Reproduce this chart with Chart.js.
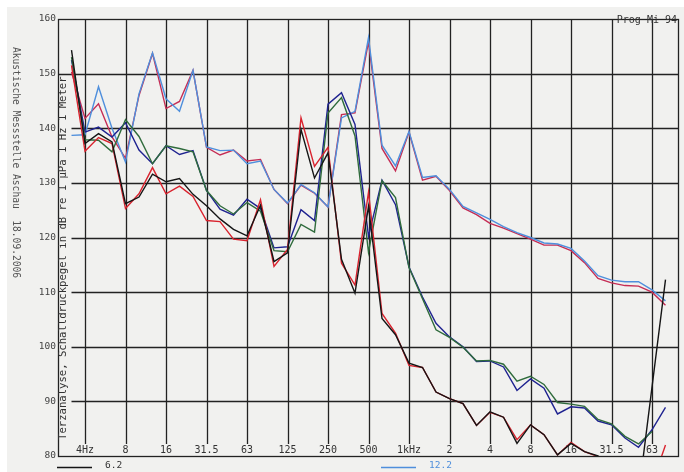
<!DOCTYPE html>
<html>
<head>
<meta charset="utf-8">
<script src="https://cdn.jsdelivr.net/npm/chart.js@4/dist/chart.umd.min.js"></script>
<style>
  html, body { margin: 0; padding: 0; background: #fff; }
  #wrap { width: 684px; height: 472px; }
</style>
</head>
<body>
<div id="wrap"><canvas id="chart" width="684" height="472"></canvas></div>
<script>
// third-octave bands, 2.5 Hz .. 100 kHz (ends are the empty plot margins)
const bands = ['2.5','3.15','4','5','6.3','8','10','12.5','16','20','25','31.5','40','50','63','80','100','125','160','200',
  '250','315','400','500','630','800','1k','1.25k','1.6k','2k','2.5k','3.15k','4k','5k','6.3k','8k','10k','12.5k','16k','20k',
  '25k','31.5k','40k','50k','63k','80k','100k'];

// labelled octave lines
const tickBands = ['4','8','16','31.5','63','125','250','500','1k','2k','4k','8k','16k','31.5k','63k'];
const tickText  = ['4Hz','8','16','31.5','63','125','250','500','1kHz','2','4','8','16','31.5','63'];

const yTicks = [80, 90, 100, 110, 120, 130, 140, 150, 160];

// levels in dB (values under 80 run off the bottom of the plot)
const black = [null, 154.3,137.2,139,137.5,126.2,127.4,131.6,130.2,130.8,127.9, 125.8,123.4,121.5,120.3,125.9,115.6,117.2,139.8,130.9,135.5,
  116,109.8,125.7,105.2,102.2,97,96.2,91.7,90.5,89.6, 85.6,88.1,87.1,82.3,85.7,83.9,80.2,82.3,80.8,80, 78,76,72.9,92.6,112.3, null];
const red = [null, 151.5,135.8,138.3,137.2,125.3,128,132.8,128,129.4,127.5, 123.1,122.9,119.7,119.4,126.9,114.7,117.8,141.9,133,136.5,
  115.3,111.3,128.3,106.1,102.5,96.6,96.2,91.7,90.5,89.6, 85.6,88,87.1,83,85.7,83.9,80.2,82.5,80.8,79.9, 78,77,76,74.9,82, null];
const navy = [null, 152.5,139.3,140.2,138.4,141,136,133.5,136.8,135.2,135.9, 128.6,125.2,124.1,127,125.3,118.1,118.3,125.1,123.1,144.4,
  146.5,140.7,120.2,130.5,126,114.6,109.1,104.3,101.8,100, 97.3,97.4,96.3,92,94.1,92.4,87.7,89,88.8,86.4, 85.7,83.3,81.6,84.8,88.9, null];
const green = [null, 153,137.9,137.8,135.7,141.6,138.5,133.5,136.8,136.3,135.7, 128.6,125.8,124.3,126.4,124.8,117.6,117.4,122.4,121,142.8,
  145.6,138.6,117.3,130.4,127.3,114.5,108.8,103.1,101.7,99.9, 97.4,97.5,96.8,93.7,94.6,93.1,89.8,89.5,89.1,86.7, 85.9,83.6,82.2,84.5,null, null];
const lightBlue = [null, 138.7,138.8,147.6,140,133.8,146.3,153.8,145.4,143.1,150.6, 136.6,135.9,136,133.5,134,128.8,126.3,129.7,128.2,125.6,
  141.9,143.1,156.6,136.9,133.1,139.4,131,131.3,128.8,125.7, 124.5,123.3,122,120.9,120,119,118.8,118,115.7,113, 112.2,111.9,111.9,110.4,108.4, null];
const crimson = [null, 150.3,141.8,144.5,138.4,134.5,146,153.7,143.6,144.9,150.6, 136.5,135.1,136,134,134.3,128.8,126.2,129.6,128.1,125.6,
  142.5,142.8,155.8,136.3,132.2,139.3,130.5,131.2,128.6,125.4, 124.2,122.6,121.7,120.7,119.7,118.6,118.6,117.6,115.4,112.5, 111.7,111.2,111.1,110,107.6, null];

const yTitle = 'Terzanalyse, Schalldruckpegel in dB re 1 \u00b5Pa 1 Hz 1 Meter';
const sideText = 'Akustische Messstelle Aschau  18.09.2006';
const progText = 'Prog Mi 94';

const MONO = '"DejaVu Sans Mono", "Liberation Mono", monospace';

function line(label, data, color) {
  return {
    label: label,
    data: data,
    borderColor: color,
    backgroundColor: color,
    borderWidth: 1.4,
    pointRadius: 0,
    tension: 0,
    spanGaps: false
  };
}

// paper, plotter grid, frame and all the loose texts
const plotterPlugin = {
  id: 'plotter',
  beforeDraw(chart) {
    const ctx = chart.ctx;
    const area = chart.chartArea;
    const x = chart.scales.x;
    const y = chart.scales.y;
    ctx.save();
    ctx.fillStyle = '#fff';
    ctx.fillRect(0, 0, chart.width, chart.height);
    ctx.fillStyle = '#f1f1ef';
    ctx.fillRect(7, 7, chart.width - 7, chart.height - 7);

    ctx.strokeStyle = '#222';
    ctx.lineWidth = 1.3;
    // horizontal lines leave room for the rotated title
    const titleX = x.getPixelForValue(1);
    yTicks.forEach(v => {
      if (v === 80 || v === 160) return;
      const py = Math.round(y.getPixelForValue(v)) + 0.5;
      ctx.beginPath();
      ctx.moveTo(v >= 150 ? area.left : titleX, py);
      ctx.lineTo(area.right, py);
      ctx.stroke();
    });
    // vertical lines stop above the band labels
    const stopY = y.getPixelForValue(82.2);
    tickBands.forEach(b => {
      const px = Math.round(x.getPixelForValue(bands.indexOf(b))) + 0.5;
      ctx.beginPath();
      ctx.moveTo(px, area.top);
      ctx.lineTo(px, stopY);
      ctx.stroke();
    });
    ctx.strokeRect(area.left + 0.5, area.top + 0.5, area.right - area.left - 1, area.bottom - area.top);

    ctx.fillStyle = '#333';
    ctx.font = '10px ' + MONO;
    ctx.textAlign = 'center';
    ctx.textBaseline = 'middle';
    tickBands.forEach((b, k) => {
      ctx.fillText(tickText[k], x.getPixelForValue(bands.indexOf(b)), area.bottom - 6);
    });

    // axis title inside the plot
    ctx.save();
    ctx.translate(area.left + 5, area.bottom - 16);
    ctx.rotate(-Math.PI / 2);
    ctx.font = '10.6px ' + MONO;
    ctx.textAlign = 'left';
    ctx.fillText(yTitle, 0, 0);
    ctx.restore();

    // station label along the left margin
    ctx.save();
    ctx.translate(15, 47);
    ctx.rotate(Math.PI / 2);
    ctx.font = '9.6px ' + MONO;
    ctx.fillStyle = '#555';
    ctx.textAlign = 'left';
    ctx.fillText(sideText, 0, 0);
    ctx.restore();

    ctx.font = '10px ' + MONO;
    ctx.textAlign = 'right';
    ctx.fillStyle = '#333';
    ctx.fillText(progText, 677, area.top + 1);
    ctx.restore();
  },
  afterDraw(chart) {
    // the two legend entries visible at the bottom edge
    const ctx = chart.ctx;
    const spots = [57, 381];
    const shown = chart.data.datasets.filter(d => d.label);
    ctx.save();
    ctx.font = '9.5px ' + MONO;
    ctx.textBaseline = 'middle';
    ctx.textAlign = 'left';
    shown.forEach((d, k) => {
      const lx = spots[k];
      ctx.strokeStyle = d.borderColor;
      ctx.lineWidth = 1.3;
      ctx.beginPath();
      ctx.moveTo(lx, 467.5);
      ctx.lineTo(lx + 35, 467.5);
      ctx.stroke();
      ctx.fillStyle = d.label === '6.2' ? '#333' : d.borderColor;
      ctx.fillText(d.label, lx + 48, 466);
    });
    ctx.restore();
  }
};

new Chart(document.getElementById('chart'), {
  type: 'line',
  data: {
    labels: bands,
    datasets: [
      line('6.2', black, '#151515'),
      line('', red, '#d9232e'),
      line('', green, '#2f6b3c'),
      line('', navy, '#1f2390'),
      line('12.2', lightBlue, '#4f8fdc'),
      line('', crimson, '#c52d55')
    ]
  },
  options: {
    responsive: false,
    animation: false,
    layout: { padding: { top: 19, right: 5, bottom: 16, left: 0 } },
    plugins: {
      legend: { display: false },
      tooltip: { enabled: false }
    },
    scales: {
      x: {
        type: 'category',
        offset: false,
        grid: { display: false, drawTicks: false },
        border: { display: false },
        ticks: { display: false },
        afterFit(scale) { scale.height = 0; }
      },
      y: {
        min: 80,
        max: 160,
        grid: { display: false, drawTicks: false },
        border: { display: false },
        ticks: {
          stepSize: 10,
          padding: 2,
          color: '#444',
          font: { family: MONO, size: 9.5 }
        },
        afterFit(scale) { scale.width = 58; }
      }
    }
  },
  plugins: [plotterPlugin]
});
</script>
</body>
</html>
